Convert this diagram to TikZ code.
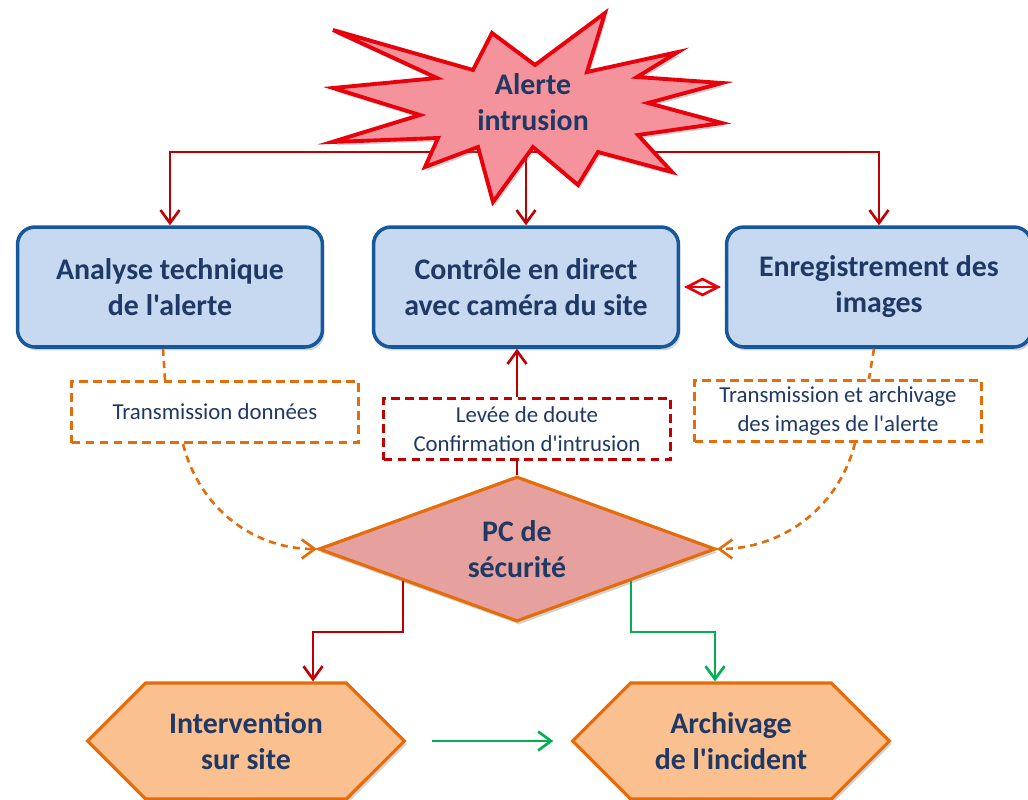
\documentclass[tikz,border=0pt]{standalone}
\usepackage{fontspec}
\setmainfont{Carlito}[Ligatures=TeXOff]
\usepackage{tikz}
\usetikzlibrary{arrows.meta,shapes.geometric,shapes.symbols,shadows,calc,backgrounds}

\definecolor{navy}{HTML}{1F3864}
\definecolor{boxfill}{HTML}{C6D9F1}
\definecolor{boxline}{HTML}{17589A}
\definecolor{starfill}{HTML}{F4939B}
\definecolor{starline}{HTML}{E8000B}
\definecolor{pcfill}{HTML}{E6A19F}
\definecolor{hexfill}{HTML}{FAC090}
\definecolor{orangeline}{HTML}{E46C0A}
\definecolor{redline}{HTML}{C00000}
\definecolor{greenline}{HTML}{00B050}

\begin{document}
\begin{tikzpicture}[x=0.02cm,y=-0.02cm,
        bigtxt/.style={font=\fontsize{17}{20.5}\selectfont\bfseries, text=navy, align=center},
        smalltxt/.style={font=\fontsize{13}{16.5}\selectfont, text=navy, align=center},
        shade/.style={drop shadow={opacity=0.35, shadow xshift=0.04cm, shadow yshift=-0.07cm}},
        bluebox/.style={bigtxt, shade, draw=boxline, line width=2pt, fill=boxfill,
          rounded corners=0.35cm, minimum width=6.1cm, minimum height=2.4cm},
        dashbox/.style={smalltxt, draw=orangeline, line width=1.7pt, dash pattern=on 5pt off 3pt,
          minimum width=5.74cm, minimum height=1.22cm},
        pcshape/.style={bigtxt, shade, diamond, shape aspect=2.74, draw=orangeline, line width=1.8pt,
          fill=pcfill, inner sep=0pt, minimum width=7.94cm, minimum height=2.9cm},
        hexa/.style={bigtxt, shade, signal, signal to=west and east, signal pointer angle=90,
          draw=orangeline, line width=1.8pt, fill=hexfill, minimum width=6.34cm, minimum height=2.32cm},
        tip/.style={-{Straight Barb[length=2.6mm,width=3.8mm]}},
        redarrow/.style={tip, draw=redline, line width=1.5pt},
        greenarrow/.style={tip, draw=greenline, line width=1.5pt},
        dasharrow/.style={tip, draw=orangeline, line width=1.5pt, dash pattern=on 4pt off 3pt}
      ]
        \useasboundingbox (0,0) rectangle (1028,799);

        % alerte
        \draw[shade, fill=starfill, draw=starline, line width=2.2pt, line join=miter]
          (333,30) -- (473,70) -- (492,33) -- (535,65) -- (605,13) -- (587,72) -- (678,52)
          -- (637,77) -- (722,83) -- (648,103) -- (722,123) -- (638,135) -- (672,172)
          -- (598,152) -- (578,185) -- (533,147) -- (493,202) -- (478,147) -- (425,167)
          -- (438,138) -- (332,142) -- (420,115) -- (333,88) -- (437,78) -- cycle;
        \node[bigtxt] (alert) at (533,102) {Alerte\\intrusion};

        \node[bluebox] (analyse) at (170,287) {Analyse technique\\de l'alerte};
        \node[bluebox] (ctrl) at (526,287) {Contrôle en direct\\avec caméra du site};
        \node[bluebox] (enreg) at (879,287) {Enregistrement des\\images};

        \node[dashbox] (tdon) at (215,412) {Transmission données};
        \node[dashbox, draw=redline] (levee) at (527,429) {Levée de doute\\Confirmation d'intrusion};
        \node[dashbox] (tarch) at (838,411) {Transmission et archivage\\des images de l'alerte};

        \node[pcshape] (pc) at (517,549) {PC de\\sécurité};

        \node[hexa] (interv) at (246,741) {Intervention\\sur site};
        \node[hexa] (archiv) at (731,741) {Archivage\\de l'incident};

        \begin{scope}[on background layer]
          \coordinate (hub) at (526,152);
          \draw[redarrow] (hub) -| (analyse.north);
          \draw[redarrow] (hub) -| (enreg.north);
          \draw[redarrow] (hub) -- (ctrl.north);
        \end{scope}

        % lien entre les deux cadres
        \path (ctrl.east) -- (enreg.west) node[midway, diamond, draw=starline, line width=1.5pt,
          inner sep=0pt, minimum width=0.64cm, minimum height=0.34cm] (lien) {};
        \draw[starline, line width=1.5pt] (lien.west) -- (lien.east);

        \draw[orangeline, line width=1.5pt, dash pattern=on 4pt off 3pt]
          ($(analyse.south)+(-7,0)$) -- ($(tdon.north)+(-50,0)$);
        \draw[orangeline, line width=1.5pt, dash pattern=on 4pt off 3pt]
          ($(enreg.south)+(-5,0)$) -- ($(tarch.north)+(31,0)$);
        \draw[dasharrow] ($(tdon.south)+(-32,0)$) .. controls (200,510) and (255,549) .. (pc.west);
        \draw[dasharrow] ($(tarch.south)+(17,0)$) .. controls (838,510) and (780,549) .. (pc.east);

        \draw[redline, line width=1.5pt] (pc.north) -- (pc.north |- levee.south);
        \draw[redarrow] (pc.north |- levee.north) -- (pc.north |- ctrl.south);

        \coordinate (pcA) at ($(pc.west)!0.43!(pc.south)$);
        \coordinate (pcB) at ($(pc.east)!0.43!(pc.south)$);
        \draw[redarrow] (pcA) -- ++(0,51) -| ($(interv.north)+(67,0)$);
        \draw[greenarrow] (pcB) -- ++(0,51) -| ($(archiv.north)+(-16,0)$);
        \draw[greenarrow, shorten <=0.5cm, shorten >=0.34cm] (interv.east) -- (archiv.west);
    \end{tikzpicture}
\end{document}
